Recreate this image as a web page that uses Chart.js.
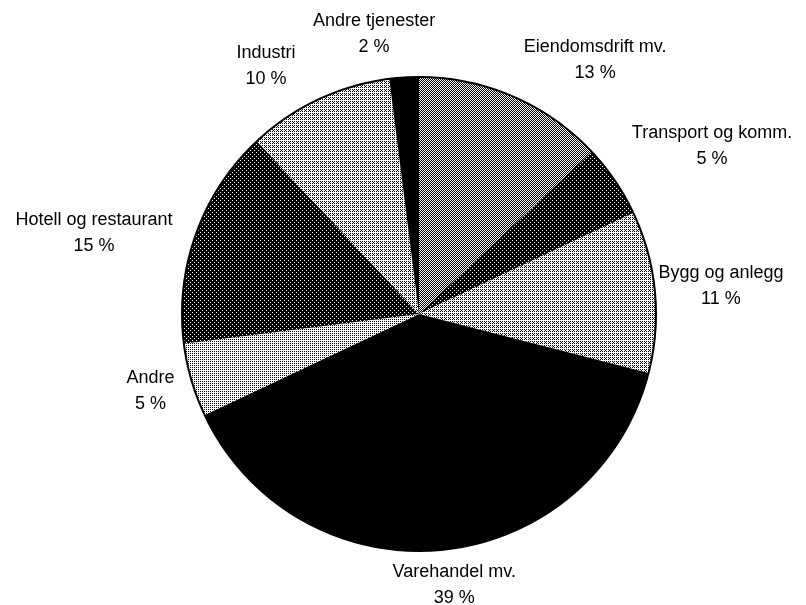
<!DOCTYPE html>
<html>
<head>
<meta charset="utf-8">
<script src="https://cdn.jsdelivr.net/npm/chart.js@4.4.0/dist/chart.umd.min.js"></script>
<style>
  html, body { margin: 0; background: #fff; }
</style>
</head>
<body>
<canvas id="myChart" width="806" height="605"></canvas>
<script>
var sectors = ["Eiendomsdrift mv.", "Transport og komm.", "Bygg og anlegg", "Varehandel mv.",
               "Andre", "Hotell og restaurant", "Industri", "Andre tjenester"];
var shares = [13, 5, 11, 39, 5, 15, 10, 2];

// share of white dots in each halftone fill (0 = solid black)
var whiteness = [0.5, 0.12, 0.7, 0, 0.72, 0.1, 0.66, 0];
// where each label sits relative to the slice's outer mid point (text centre, first baseline)
var labelShift = [[82, -44], [97, -43], [66, -14], [13, 27], [-41, 3], [-102, -9], [-52, -42], [-30, -51]];

var bayer = [[0, 8, 2, 10], [12, 4, 14, 6], [3, 11, 1, 9], [15, 7, 13, 5]];

function halftone(level) {
  var c = document.createElement("canvas");
  c.width = 4; c.height = 4;
  var g = c.getContext("2d");
  var img = g.createImageData(4, 4);
  for (var y = 0; y < 4; y++) {
    for (var x = 0; x < 4; x++) {
      var v = (bayer[y][x] + 0.5) / 16 < level ? 255 : 0;
      var k = (y * 4 + x) * 4;
      img.data[k] = v; img.data[k + 1] = v; img.data[k + 2] = v; img.data[k + 3] = 255;
    }
  }
  g.putImageData(img, 0, 0);
  return g.createPattern(c, "repeat");
}

var fills = [];
for (var i = 0; i < whiteness.length; i++) fills.push(halftone(whiteness[i]));

var pieLabels = {
  id: "pieLabels",
  afterDatasetsDraw: function(chart) {
    var ctx = chart.ctx;
    var arcs = chart.getDatasetMeta(0).data;
    ctx.save();
    // outer rim
    var a0 = arcs[0];
    ctx.beginPath();
    ctx.arc(a0.x, a0.y, a0.outerRadius, 0, Math.PI * 2);
    ctx.lineWidth = 2;
    ctx.strokeStyle = "#000";
    ctx.stroke();

    ctx.font = '18px "Liberation Sans", Arial, sans-serif';
    ctx.fillStyle = "#000";
    ctx.textAlign = "center";
    ctx.textBaseline = "alphabetic";
    for (var i = 0; i < arcs.length; i++) {
      var a = arcs[i];
      var mid = (a.startAngle + a.endAngle) / 2;
      var px = a.x + Math.cos(mid) * a.outerRadius + labelShift[i][0];
      var py = a.y + Math.sin(mid) * a.outerRadius + labelShift[i][1];
      ctx.fillText(sectors[i], px, py);
      ctx.fillText(shares[i] + " %", px, py + 26);
    }
    ctx.restore();
  }
};

var ctx = document.getElementById("myChart").getContext("2d");
var myPie = new Chart(ctx, {
  type: "pie",
  data: {
    labels: sectors,
    datasets: [{
      data: shares,
      backgroundColor: fills,
      borderWidth: 0
    }]
  },
  options: {
    responsive: false,
    animation: false,
    layout: { padding: { top: 77, bottom: 54, left: 182, right: 150 } },
    plugins: { legend: { display: false }, tooltip: { enabled: false } }
  },
  plugins: [pieLabels]
});
</script>
</body>
</html>
